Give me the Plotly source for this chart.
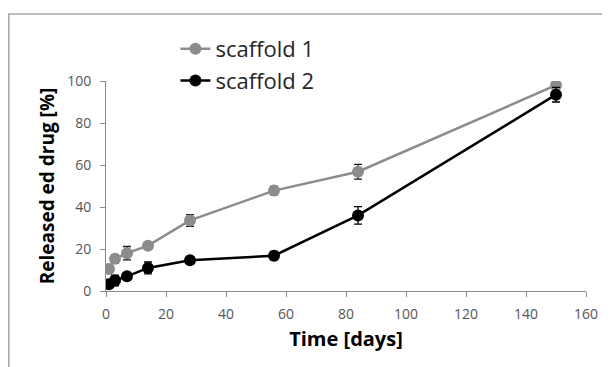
import plotly.graph_objects as go

days = [1, 3, 7, 14, 28, 56, 84, 150]
scaffold1 = [10.5, 15.3, 18.0, 21.6, 33.6, 47.8, 56.8, 98.0]
scaffold1_err = [1.0, 2.0, 3.2, 1.5, 2.8, 2.0, 3.5, 1.0]
scaffold2 = [3.2, 5.0, 7.0, 11.0, 14.6, 16.8, 36.0, 93.5]
scaffold2_err = [1.5, 2.5, 1.5, 2.8, 1.5, 2.0, 4.2, 3.5]

x_ticks = [0, 20, 40, 60, 80, 100, 120, 140, 160]
y_ticks = [0, 20, 40, 60, 80, 100]

# page body has an 8px default margin, so the figure is drawn 8px in
W, H = 602, 359
L, R, T, B = 98, 20, 73, 76
pw, ph = W - L - R, H - T - B

def px(xp):
    return (xp - L) / pw

def py(yp):
    return (H - B - yp) / ph

FONT = "Open Sans"

fig = go.Figure()
fig.add_trace(go.Scatter(
    x=days, y=scaffold1, name="scaffold 1", mode="lines+markers",
    line=dict(color="#8c8c8c", width=2.5),
    marker=dict(color="#8c8c8c", size=12),
    error_y=dict(type="data", array=scaffold1_err, color="#1a1a1a", thickness=1.3, width=4),
    legendgroup="a",
))
fig.add_trace(go.Scatter(
    x=days, y=scaffold2, name="scaffold 2", mode="lines+markers",
    line=dict(color="#000000", width=2.5),
    marker=dict(color="#000000", size=12),
    error_y=dict(type="data", array=scaffold2_err, color="#000000", thickness=1.3, width=4),
    legendgroup="b",
))

fig.update_layout(
    width=W, height=H,
    margin=dict(l=L, r=R, t=T, b=B),
    paper_bgcolor="white", plot_bgcolor="white",
    font=dict(family=FONT, color="#404040"),
    showlegend=True,
    legend=dict(
        x=px(168), y=py(20), xanchor="left", yanchor="top",
        bgcolor="rgba(0,0,0,0)",
        font=dict(family=FONT, size=22, color="#262626"),
        traceorder="grouped", tracegroupgap=0,
        itemwidth=30,
    ),
    xaxis=dict(
        range=[0, 160], tickvals=x_ticks, showgrid=False, zeroline=False,
        showline=True, linecolor="#8a8a8a", linewidth=1,
        ticks="outside", ticklen=5, tickcolor="#8a8a8a",
        tickfont=dict(size=14, color="#555555"),
        ticklabelstandoff=5,
        title=dict(text="<b>Time [days]</b>", font=dict(size=20, color="#000000"), standoff=10),
    ),
    yaxis=dict(
        range=[0, 100], tickvals=y_ticks, showgrid=False, zeroline=False,
        showline=True, linecolor="#8a8a8a", linewidth=1,
        ticks="outside", ticklen=5, tickcolor="#8a8a8a",
        tickfont=dict(size=14, color="#555555"),
        ticklabelstandoff=6,
        title=dict(text="<b>Released ed drug [%]</b>", font=dict(size=19, color="#000000"), standoff=7),
    ),
    shapes=[dict(
        type="rect", xref="paper", yref="paper",
        x0=px(0), x1=px(606), y0=py(364), y1=py(6),
        line=dict(color="#a6a6a6", width=1.5), fillcolor="rgba(0,0,0,0)", layer="below",
    )],
)

fig.write_html("out.html")
